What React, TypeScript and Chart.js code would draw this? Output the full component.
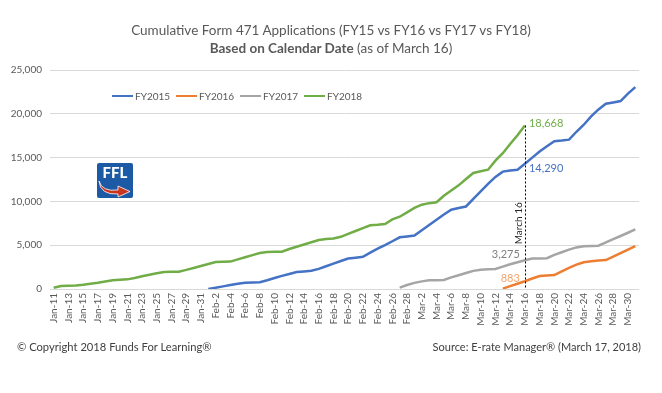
import React, { useEffect, useRef } from "react";
import { Chart, registerables } from "chart.js";

Chart.register(...registerables);

const N = null;

const categories = [
  "Jan-11","Jan-12","Jan-13","Jan-14","Jan-15","Jan-16","Jan-17","Jan-18","Jan-19","Jan-20",
  "Jan-21","Jan-22","Jan-23","Jan-24","Jan-25","Jan-26","Jan-27","Jan-28","Jan-29","Jan-30",
  "Jan-31","Feb-1","Feb-2","Feb-3","Feb-4","Feb-5","Feb-6","Feb-7","Feb-8","Feb-9",
  "Feb-10","Feb-11","Feb-12","Feb-13","Feb-14","Feb-15","Feb-16","Feb-17","Feb-18","Feb-19",
  "Feb-20","Feb-21","Feb-22","Feb-23","Feb-24","Feb-25","Feb-26","Feb-27","Feb-28","Mar-1",
  "Mar-2","Mar-3","Mar-4","Mar-5","Mar-6","Mar-7","Mar-8","Mar-9","Mar-10","Mar-11",
  "Mar-12","Mar-13","Mar-14","Mar-15","Mar-16","Mar-17","Mar-18","Mar-19","Mar-20","Mar-21",
  "Mar-22","Mar-23","Mar-24","Mar-25","Mar-26","Mar-27","Mar-28","Mar-29","Mar-30","Mar-31",
];

const fy2015 = [
  N,N,N,N,N,N,N,N,N,N,
  N,N,N,N,N,N,N,N,N,N,
  N,0,150,300,450,600,720,750,780,1000,
  1250,1500,1720,1930,2000,2080,2300,2600,2900,3200,
  3480,3580,3680,4150,4600,5000,5450,5900,6000,6100,
  6700,7300,7900,8500,9050,9250,9420,10300,11150,12000,
  12800,13400,13520,13620,14290,15000,15700,16300,16880,16950,
  17050,17950,18750,19700,20500,21150,21300,21450,22300,23050,
];

const fy2016 = [
  N,N,N,N,N,N,N,N,N,N,
  N,N,N,N,N,N,N,N,N,N,
  N,N,N,N,N,N,N,N,N,N,
  N,N,N,N,N,N,N,N,N,N,
  N,N,N,N,N,N,N,N,N,N,
  N,N,N,N,N,N,N,N,N,N,
  N,50,330,600,883,1200,1480,1530,1590,2000,
  2420,2780,3050,3180,3240,3300,3700,4100,4500,4900,
];

const fy2017 = [
  N,N,N,N,N,N,N,N,N,N,
  N,N,N,N,N,N,N,N,N,N,
  N,N,N,N,N,N,N,N,N,N,
  N,N,N,N,N,N,N,N,N,N,
  N,N,N,N,N,N,N,150,450,700,
  870,1000,1010,1030,1330,1570,1820,2070,2200,2250,
  2280,2560,2820,3050,3275,3470,3490,3510,3900,4200,
  4500,4750,4870,4910,4940,5330,5700,6050,6420,6800,
];

const fy2018 = [
  150,330,370,400,480,600,720,860,1000,1050,
  1100,1250,1450,1620,1800,1950,1960,1980,2180,2400,
  2620,2850,3080,3100,3130,3380,3620,3870,4100,4230,
  4240,4260,4560,4820,5080,5330,5590,5700,5760,5960,
  6300,6620,6950,7280,7330,7420,7950,8250,8750,9250,
  9620,9800,9900,10650,11250,11830,12550,13250,13450,13620,
  14650,15500,16550,17550,18668,N,N,N,N,N,
  N,N,N,N,N,N,N,N,N,N,
];

const seriesNames = ["FY2015", "FY2016", "FY2017", "FY2018"];
const seriesColors = ["#4472C4", "#ED7D31", "#A5A5A5", "#70AD47"];
const yTicks = [0, 5000, 10000, 15000, 20000, 25000];

const markerDate = "Mar-16";
const markerText = "March 16";

const FONT = "Lato, 'Open Sans', sans-serif";

const fmt = (v: number) => v.toLocaleString("en-US");

const annotationPlugin = {
  id: "annot",
  afterDatasetsDraw(chart: any) {
    const { ctx, scales } = chart;
    const x = scales.x;
    const y = scales.y;
    const idx = categories.indexOf(markerDate);
    const px = x.getPixelForValue(idx);
    const topV = fy2018[idx] as number;
    ctx.save();
    ctx.strokeStyle = "#000000";
    ctx.lineWidth = 1;
    ctx.setLineDash([2, 2]);
    ctx.beginPath();
    ctx.moveTo(Math.round(px) + 0.5, y.getPixelForValue(topV));
    ctx.lineTo(Math.round(px) + 0.5, y.getPixelForValue(0));
    ctx.stroke();
    ctx.setLineDash([]);
    ctx.save();
    ctx.translate(px - 6, y.getPixelForValue(7500));
    ctx.rotate(-Math.PI / 2);
    ctx.fillStyle = "#262626";
    ctx.font = `10px ${FONT}`;
    ctx.textAlign = "center";
    ctx.textBaseline = "middle";
    ctx.fillText(markerText, 0, 0);
    ctx.restore();
    ctx.font = `11px ${FONT}`;
    ctx.textBaseline = "middle";
    const v18 = fy2018[idx] as number;
    const v15 = fy2015[idx] as number;
    const v17 = fy2017[idx] as number;
    const v16 = fy2016[idx] as number;
    ctx.textAlign = "left";
    ctx.fillStyle = "#70AD47";
    ctx.fillText(fmt(v18), px + 4, y.getPixelForValue(v18) - 2);
    ctx.fillStyle = "#4472C4";
    ctx.fillText(fmt(v15), px + 4, y.getPixelForValue(v15) + 5);
    ctx.textAlign = "right";
    ctx.fillStyle = "#7F7F7F";
    ctx.fillText(fmt(v17), px - 5, y.getPixelForValue(v17) - 6);
    ctx.fillStyle = "#F4A46A";
    ctx.fillText(fmt(v16), px - 5, y.getPixelForValue(v16) - 3);
    ctx.restore();
  },
};

function Logo() {
  return (
    <svg width={36} height={35} viewBox="0 0 36 35" style={{ position: "absolute", left: 97, top: 163 }}>
      <rect x={0} y={0} width={36} height={35} rx={2} fill="#1D5AA6" />
      <text x={18} y={15} textAnchor="middle" fontFamily={FONT} fontWeight={900} fontSize={15} fill="#ffffff">
        FFL
      </text>
      <path
        d="M2 18 Q 5 29 21 27 L21 23 L33 28.5 L21 34 L21 31 Q 3 32 2 18 Z"
        fill="#C9351F"
        stroke="#ffffff"
        strokeWidth={0.8}
      />
    </svg>
  );
}

export default function App() {
  const canvasRef = useRef<HTMLCanvasElement | null>(null);

  useEffect(() => {
    const canvas = canvasRef.current;
    if (!canvas) return;
    const allSeries = [fy2015, fy2016, fy2017, fy2018];
    const chart = new Chart(canvas, {
      type: "line",
      data: {
        labels: categories,
        datasets: allSeries.map((d, i) => ({
          label: seriesNames[i],
          data: d,
          borderColor: seriesColors[i],
          backgroundColor: seriesColors[i],
          borderWidth: 2.5,
          pointRadius: 0,
          tension: 0,
          spanGaps: false,
          fill: false,
        })),
      },
      options: {
        responsive: false,
        animation: false,
        devicePixelRatio: 1,
        layout: { padding: { left: 0, right: 23, top: 70, bottom: 59 } },
        plugins: {
          legend: { display: false },
          title: { display: false },
          tooltip: { enabled: false },
        },
        scales: {
          x: {
            type: "category",
            offset: true,
            grid: { display: false, drawTicks: false },
            border: { display: false },
            ticks: {
              autoSkip: false,
              maxRotation: 90,
              minRotation: 90,
              padding: 4,
              color: "#595959",
              font: { family: FONT, size: 10 },
              callback: function (this: any, value: any, index: number) {
                return index % 2 === 0 ? categories[index] : "";
              },
            },
            afterFit: (scale: any) => {
              scale.height = 45;
            },
          },
          y: {
            min: 0,
            max: 25000,
            afterBuildTicks: (scale: any) => {
              scale.ticks = yTicks.map((v) => ({ value: v }));
            },
            grid: { color: "#D9D9D9", lineWidth: 1, drawTicks: false },
            border: { display: false },
            ticks: {
              padding: 8,
              color: "#595959",
              font: { family: FONT, size: 10 },
              callback: (v: any) => fmt(Number(v)),
            },
            afterFit: (scale: any) => {
              scale.width = 50;
            },
          },
        },
      },
      plugins: [annotationPlugin],
    });
    return () => chart.destroy();
  }, []);

  return (
    <div
      style={{
        position: "absolute",
        left: 0,
        top: 0,
        width: 662,
        height: 393,
        background: "#ffffff",
        fontFamily: FONT,
        overflow: "hidden",
      }}
    >
      <canvas ref={canvasRef} width={662} height={393} style={{ position: "absolute", left: 0, top: 0, width: 662, height: 393 }} />
      <div
        style={{
          position: "absolute",
          left: 0,
          top: 22,
          width: 662,
          textAlign: "center",
          color: "#595959",
          fontSize: 13.5,
          lineHeight: "17.5px",
        }}
      >
        <div>Cumulative Form 471 Applications (FY15 vs FY16 vs FY17 vs FY18)</div>
        <div>
          <span style={{ fontWeight: 700 }}>Based on Calendar Date</span> (as of March 16)
        </div>
      </div>
      {seriesNames.map((name, i) => (
        <div
          key={name}
          style={{
            position: "absolute",
            left: 112 + i * 64,
            top: 90,
            height: 12,
            display: "flex",
            alignItems: "center",
            fontSize: 10,
            color: "#595959",
            whiteSpace: "nowrap",
          }}
        >
          <span style={{ display: "inline-block", width: 21, height: 2.5, background: seriesColors[i], marginRight: 2 }} />
          {name}
        </div>
      ))}
      <Logo />
      <div style={{ position: "absolute", left: 17, top: 340, fontSize: 11.2, color: "#404040", whiteSpace: "nowrap" }}>
        © Copyright 2018 Funds For Learning®
      </div>
      <div style={{ position: "absolute", right: 21, top: 340, fontSize: 11, color: "#404040", whiteSpace: "nowrap" }}>
        Source: E-rate Manager® (March 17, 2018)
      </div>
    </div>
  );
}
